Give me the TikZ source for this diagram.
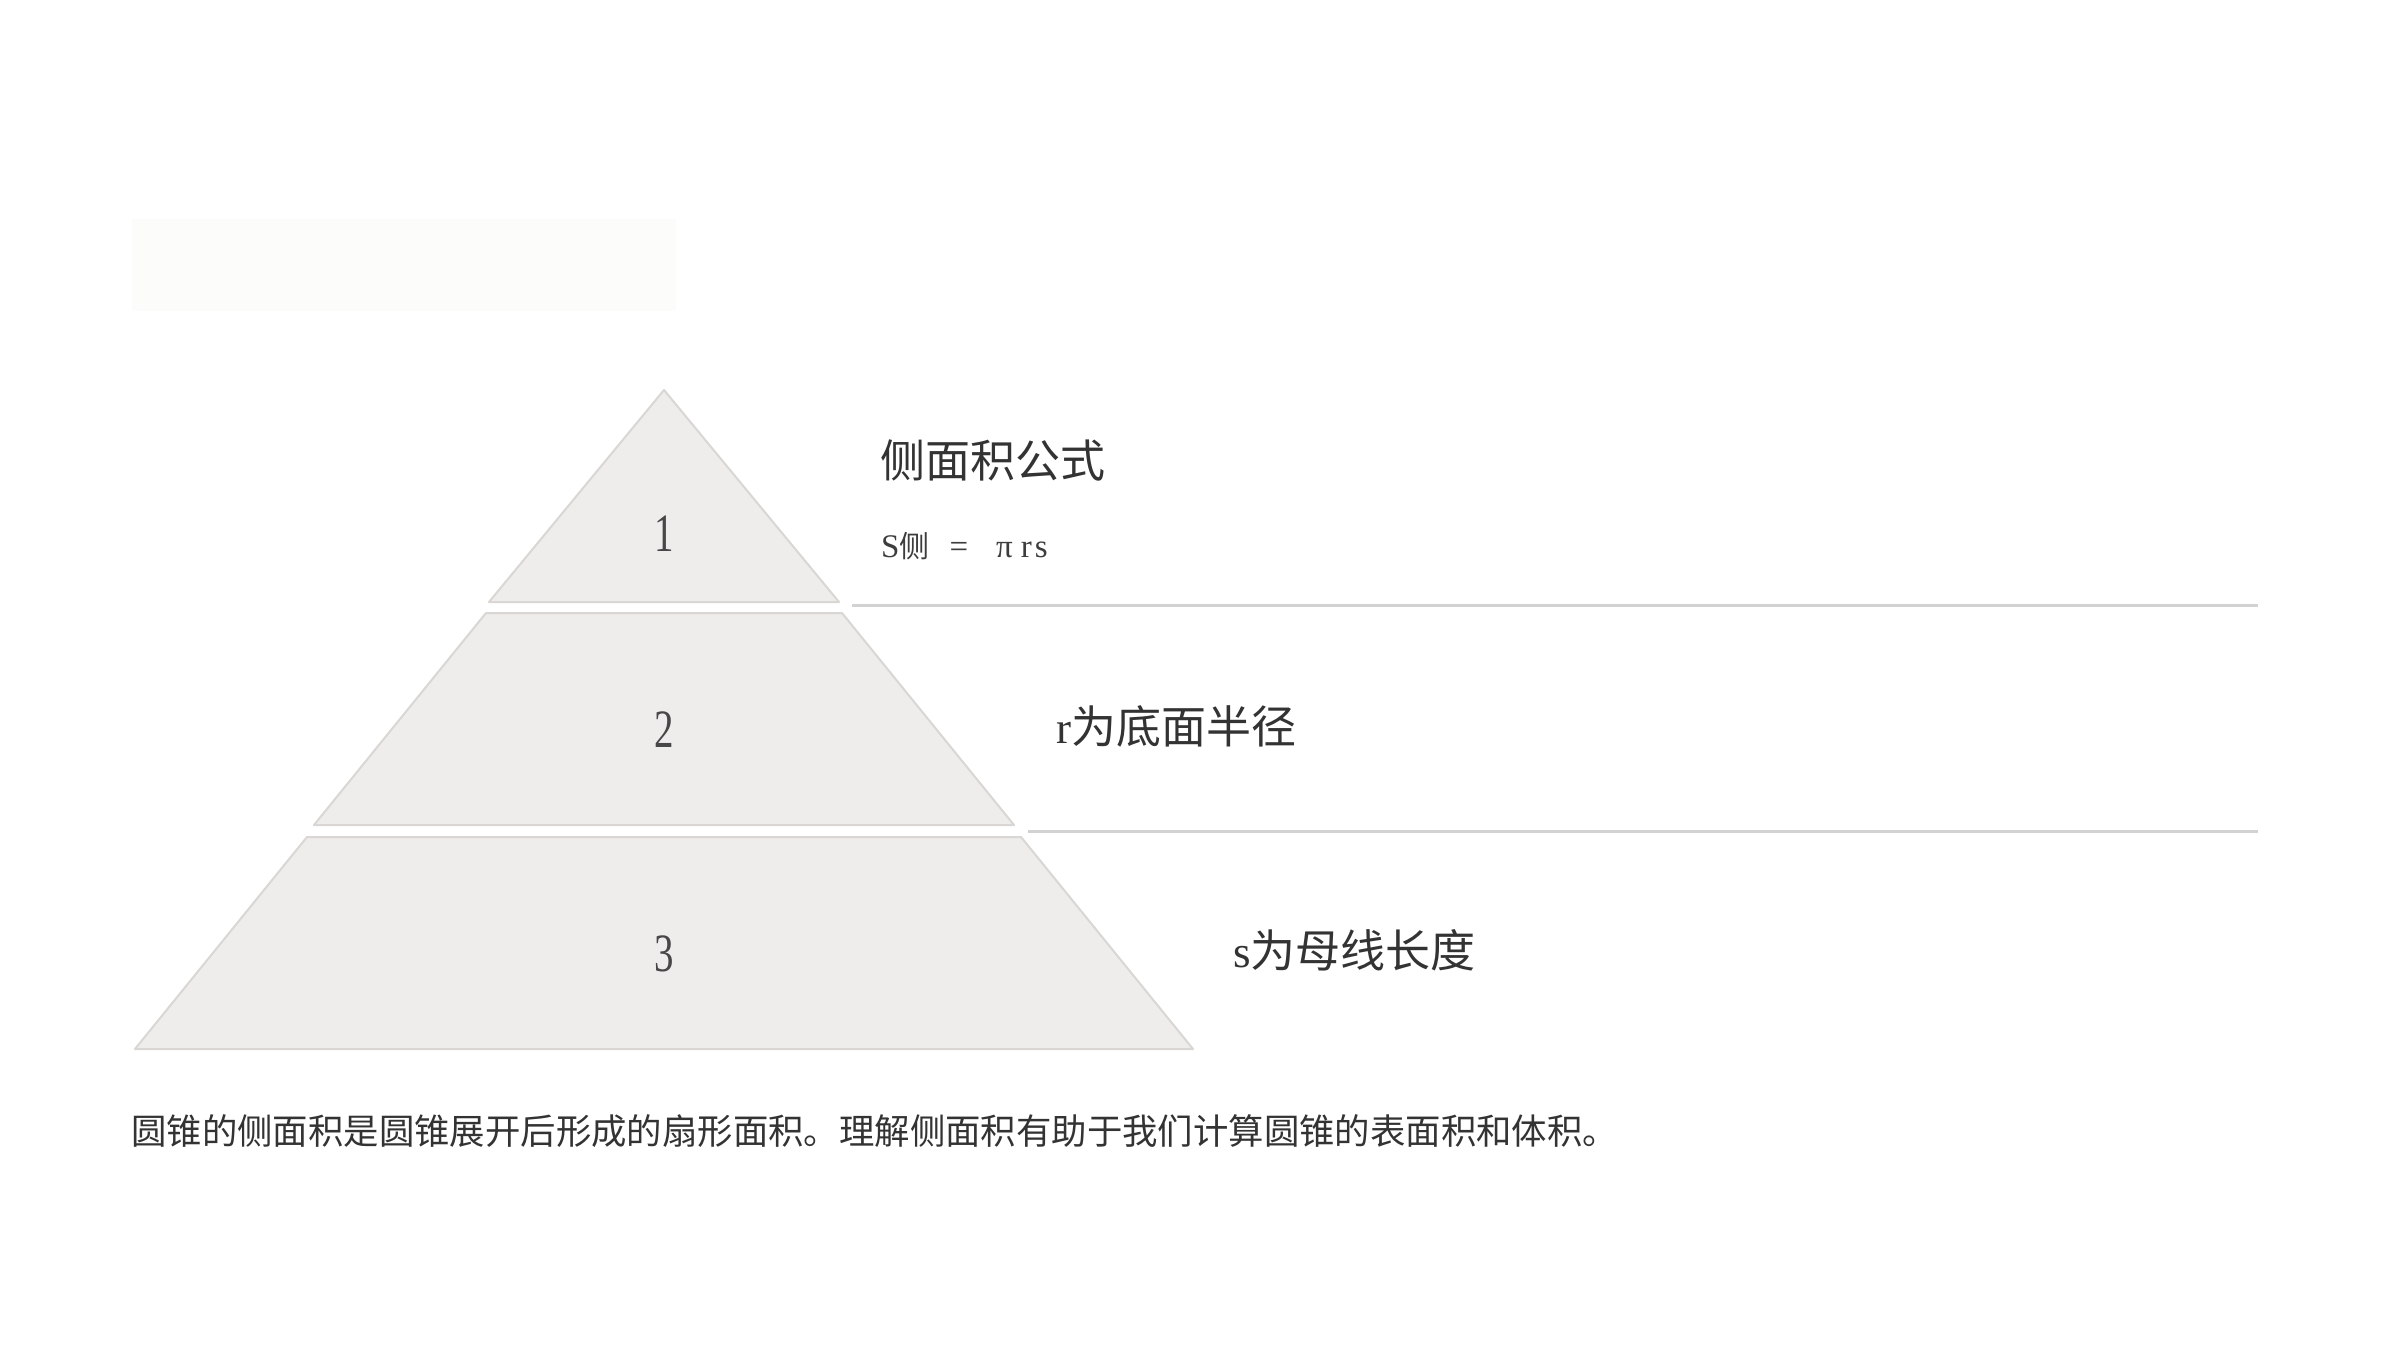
\documentclass[tikz,border=0pt]{standalone}
\usepackage{fontspec}
\setmainfont{Liberation Serif}
\newfontfamily\cjk{Noto Sans CJK SC}
\newfontfamily\numfont[FakeStretch=0.72]{Liberation Serif}
\definecolor{slicefill}{HTML}{EFEDEC}
\definecolor{slicedraw}{HTML}{D9D6D4}
\definecolor{rulecol}{HTML}{D2D2D2}
\definecolor{txt}{HTML}{333333}
\definecolor{ghost}{HTML}{FCFCFA}
\tikzset{
  slice/.style={fill=slicefill, draw=slicedraw, line width=2pt, line join=round},
  sep/.style={draw=rulecol, line width=3pt},
  num/.style={text=txt!90, font=\numfont\fontsize{54}{60}\selectfont, inner sep=0pt},
  head/.style={anchor=west, text=txt, font=\cjk\fontsize{45}{54}\selectfont, inner sep=0pt},
  formula/.style={anchor=west, text=txt!95, font=\fontsize{33}{38}\selectfont, inner sep=0pt},
  body/.style={anchor=west, text=txt, font=\cjk\fontsize{35.4}{42}\selectfont, inner sep=0pt}
}
\begin{document}
\begin{tikzpicture}[x=1pt,y=-1pt]
\useasboundingbox (0,0) rectangle (2400,1350);
\fill[white] (0,0) rectangle (2400,1350);
% faint banner
\fill[ghost] (132,219) rectangle (676,311);
% pyramid slices
\draw[slice] (664,390) -- (839,602) -- (489,602) -- cycle;
\draw[slice] (486,613) -- (842,613) -- (1014,825) -- (314,825) -- cycle;
\draw[slice] (307,837) -- (1021,837) -- (1193,1049) -- (135,1049) -- cycle;
% separators
\coordinate (l1a) at (852,605);
\coordinate (l1b) at (2258,605);
\coordinate (l2a) at (1028,831);
\coordinate (l2b) at (2258,831);
\draw[sep] (l1a) -- (l1b);
\draw[sep] (l2a) -- (l2b);
% numbers
\node[num] (n1) at (664,534) {1};
\node[num] (n2) at (664,730) {2};
\node[num] (n3) at (664,954) {3};
% labels
\node[head] (t1) at (880,460) {侧面积公式};
\node[formula] (f1) at (881,546) {S{\cjk\fontsize{30}{36}\selectfont 侧}\hspace{20pt}=\hspace{28pt}π\hspace{8pt}r\hspace{3pt}s};
\node[head] (t2) at (1056,726) {{\fontspec{Liberation Serif}r}为底面半径};
\node[head] (t3) at (1233,950) {{\fontspec{Liberation Serif}s}为母线长度};
\node[body] (b) at (131,1131) {圆锥的侧面积是圆锥展开后形成的扇形面积。理解侧面积有助于我们计算圆锥的表面积和体积。};
\end{tikzpicture}
\end{document}
